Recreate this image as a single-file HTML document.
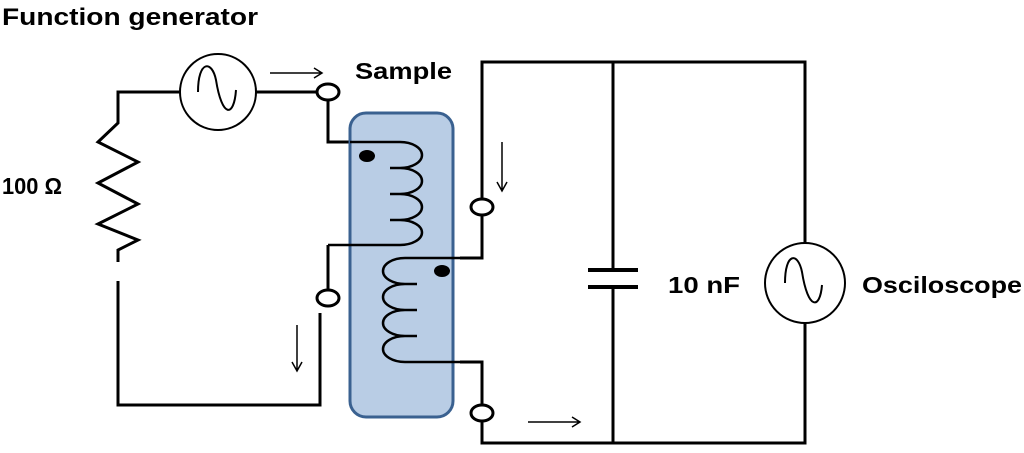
<!DOCTYPE html>
<html><head><style>
body{margin:0;background:#fff;width:1024px;height:453px;overflow:hidden}
svg{display:block}
text{font-family:"Liberation Sans",sans-serif;font-weight:bold;fill:#000}
</style></head><body>
<svg width="1024" height="453" viewBox="0 0 1024 453">
<text x="2" y="25" font-size="24" textLength="256" lengthAdjust="spacingAndGlyphs">Function generator</text>
<text x="355" y="79" font-size="23" textLength="97" lengthAdjust="spacingAndGlyphs">Sample</text>
<text x="2" y="194" font-size="23" textLength="60" lengthAdjust="spacingAndGlyphs">100 Ω</text>
<text x="668" y="293" font-size="23" textLength="72" lengthAdjust="spacingAndGlyphs">10 nF</text>
<text x="862" y="293" font-size="23" textLength="160" lengthAdjust="spacingAndGlyphs">Osciloscope</text>
<g fill="none" stroke="#000" stroke-width="3">
<path d="M180 92 H118 V123 L98 142 L138 162 L98 183 L138 204 L98 224 L138 240 L118 250 V262"/>
<path d="M118 281 V405 H320 V313"/>
<path d="M256 92 H317"/>
<path d="M328 100 V142 H400"/>
<path d="M328 290 V245"/>
<path d="M482 198 V62 H805 V243"/>
<path d="M805 323 V443 H482 V421"/>
<path d="M613 62 V270 M613 287 V443"/>
<path d="M482 215 V258 H460"/>
<path d="M482 404 V362 H460"/>
</g>
<rect x="350" y="113" width="103" height="304" rx="16" fill="#b9cde5" stroke="#3a6190" stroke-width="3"/>
<g fill="none" stroke="#000" stroke-width="2.5">
<path d="M350 142 H400 A22 13 0 0 1 400 168 H390 M390 168 H400 A22 13 0 0 1 400 194 H390 M390 194 H400 A22 13 0 0 1 400 220 H390 M390 220 H400 A22 12.5 0 0 1 400 245 H328"/>
<path d="M483 258 H405 A22 13 0 0 0 405 284 H417 M405 284 A22 13 0 0 0 405 310 H417 M405 310 A22 13 0 0 0 405 336 H417 M405 336 A22 13 0 0 0 405 362 H483"/>
</g>
<g fill="#fff" stroke="#000" stroke-width="3">
<ellipse cx="328" cy="92" rx="11" ry="8"/>
<ellipse cx="328" cy="298" rx="11" ry="8"/>
<ellipse cx="482" cy="207" rx="11" ry="8"/>
<ellipse cx="482" cy="413" rx="11" ry="8"/>
</g>
<g fill="#fff" stroke="#000" stroke-width="2">
<circle cx="218" cy="92" r="38"/>
<circle cx="805" cy="283" r="40"/>
</g>
<g fill="none" stroke="#000" stroke-width="2">
<path d="M198 92 C198 60 212 60 216 80 C222 118 234 118 236 90"/>
<path d="M785 283 C785 252 798 252 802 272 C808 310 820 310 822 285"/>
</g>
<g fill="#000"><ellipse cx="367" cy="156" rx="8" ry="6"/><ellipse cx="442" cy="271" rx="8" ry="6"/></g>
<g stroke="#000" stroke-width="4"><path d="M588 270 H638 M588 287 H638"/></g>
<g fill="none" stroke="#000" stroke-width="1.5">
<path d="M270 73 H322 M314 68 L322 73 L314 78"/>
<path d="M502 142 V191 M497 182 L502 191 L507 182"/>
<path d="M297 325 V371 M292 362 L297 371 L302 362"/>
<path d="M528 422 H580 M572 417 L580 422 L572 427"/>
</g>
</svg>
</body></html>
